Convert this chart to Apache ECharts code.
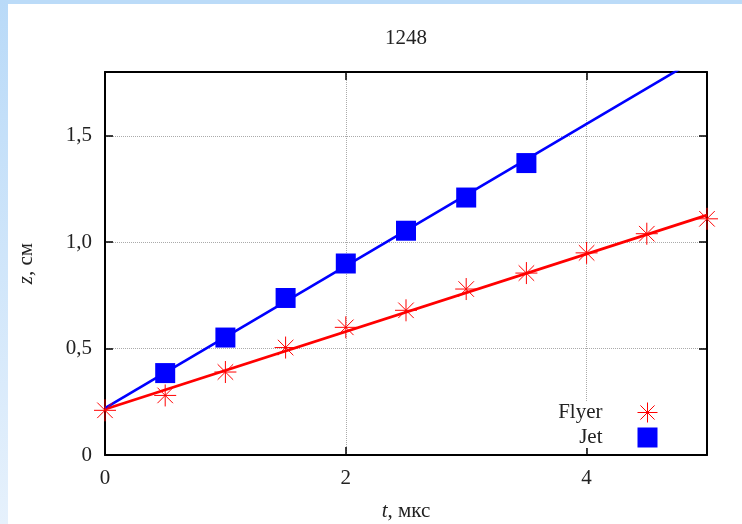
<!DOCTYPE html>
<html>
<head>
<meta charset="utf-8">
<script src="https://cdn.jsdelivr.net/npm/echarts@6/dist/echarts.min.js"></script>
<style>
  html, body { margin: 0; padding: 0; background: #fff; }
  #bandTop { position: absolute; left: 0; top: 0; width: 742px; height: 4px; background: #bbdbf8; }
  #bandLeft { position: absolute; left: 0; top: 0; width: 8px; height: 524px;
    background: linear-gradient(#b9daf8, #e6f1fc); }
  #chart { position: absolute; left: 0; top: 0; width: 742px; height: 524px; }
</style>
</head>
<body>
<div id="bandTop"></div>
<div id="bandLeft"></div>
<div id="chart"></div>
<script>
  // измерения: Flyer
  const tFlyer = [0, 0.5, 1, 1.5, 2, 2.5, 3, 3.5, 4, 4.5, 5]
  const zFlyer = [0.21, 0.28, 0.39, 0.505, 0.60, 0.68, 0.78, 0.855, 0.95, 1.04, 1.11]
  // измерения: Jet
  const tJet = [0.5, 1, 1.5, 2, 2.5, 3, 3.5]
  const zJet = [0.385, 0.552, 0.738, 0.90, 1.054, 1.21, 1.372]
  // линейные аппроксимации
  const fitT = [0, 5]
  const flyerFitZ = [0.215, 1.127]
  const jetFitZ = [0.22, 1.89]
  // подписи делений
  const yTickLabels = ['0', '0,5', '1,0', '1,5']

  const starPath = 'path://M0,10L20,10M10,0L10,20M2.93,2.93L17.07,17.07M17.07,2.93L2.93,17.07'
  const font = 'Liberation Serif'
  const textColor = '#222'

  function pairs (xs, ys) {
    let out = []
    for (let i in xs) out.push([xs[i], ys[i]])
    return out
  }

  const chart = echarts.init(document.getElementById('chart'))

  const axisCommon = {
    axisLine: { show: true, onZero: false, lineStyle: { color: '#000', width: 2 } },
    axisTick: { show: true, inside: true, length: 8, lineStyle: { color: '#000', width: 1.5 } },
    minorTick: { show: false }
  }

  chart.setOption({
    animation: false,
    title: {
      text: '1248',
      left: 385,
      top: 28,
      padding: 0,
      textStyle: { fontFamily: font, fontSize: 21, fontWeight: 'normal', color: textColor }
    },
    grid: { left: 105, right: 35, top: 72, bottom: 69, show: false, containLabel: false, outerBoundsMode: 'none' },
    legend: {
      orient: 'vertical',
      align: 'right',
      right: 84,
      top: 402,
      padding: 0,
      itemGap: 4,
      itemWidth: 20,
      itemHeight: 20,
      backgroundColor: '#fff',
      selectedMode: false,
      textStyle: { fontFamily: font, fontSize: 21, color: textColor, padding: [0, 30, 0, 0] },
      data: [
        { name: 'Flyer', icon: starPath, itemStyle: { color: '#f00', borderColor: '#f00', borderWidth: 1 } },
        { name: 'Jet', icon: 'rect', itemStyle: { color: '#0000ff', borderWidth: 0 } }
      ]
    },
    xAxis: [
      Object.assign({}, axisCommon, {
        type: 'value',
        min: 0,
        max: 5,
        interval: 2,
        name: '{it|t}, мкс',
        nameLocation: 'middle',
        nameGap: 46,
        nameTextStyle: {
          fontFamily: font, fontSize: 21, color: textColor,
          rich: { it: { fontFamily: font, fontSize: 21, fontStyle: 'italic', color: textColor } }
        },
        axisLabel: {
          margin: 13,
          showMaxLabel: false,
          fontFamily: font, fontSize: 21, color: textColor
        },
        splitLine: { show: true, lineStyle: { color: '#aaa', type: 'dotted', width: 1 } }
      }),
      Object.assign({}, axisCommon, {
        type: 'value',
        position: 'top',
        min: 0,
        max: 5,
        interval: 2,
        axisLabel: { show: false },
        splitLine: { show: false }
      })
    ],
    yAxis: [
      Object.assign({}, axisCommon, {
        type: 'value',
        min: 0,
        max: 1.8,
        interval: 0.5,
        name: '{it|z}, см',
        nameLocation: 'middle',
        nameGap: 68,
        nameTextStyle: {
          fontFamily: font, fontSize: 21, color: textColor,
          rich: { it: { fontFamily: font, fontSize: 21, fontStyle: 'italic', color: textColor } }
        },
        axisLabel: {
          margin: 13,
          showMaxLabel: false,
          fontFamily: font, fontSize: 21, color: textColor,
          formatter: function (v) { return yTickLabels[Math.round(v / 0.5)] }
        },
        splitLine: { show: true, lineStyle: { color: '#aaa', type: 'dotted', width: 1 } }
      }),
      Object.assign({}, axisCommon, {
        type: 'value',
        position: 'right',
        min: 0,
        max: 1.8,
        interval: 0.5,
        axisLabel: { show: false },
        splitLine: { show: false }
      })
    ],
    series: [
      {
        name: 'Flyer fit',
        type: 'line',
        data: pairs(fitT, flyerFitZ),
        showSymbol: false,
        lineStyle: { color: '#f00', width: 2.8 },
        silent: true,
        z: 2
      },
      {
        name: 'Jet fit',
        type: 'line',
        data: pairs(fitT, jetFitZ),
        showSymbol: false,
        lineStyle: { color: '#0000ff', width: 2.6 },
        silent: true,
        z: 2
      },
      {
        name: 'Flyer',
        type: 'scatter',
        data: pairs(tFlyer, zFlyer),
        symbol: starPath,
        symbolSize: 22,
        itemStyle: { color: '#f00', borderColor: '#f00', borderWidth: 1, opacity: 1 },
        emphasis: { disabled: true },
        silent: true,
        z: 3
      },
      {
        name: 'Jet',
        type: 'scatter',
        data: pairs(tJet, zJet),
        symbol: 'rect',
        symbolSize: 20,
        itemStyle: { color: '#0000ff', opacity: 1 },
        emphasis: { disabled: true },
        silent: true,
        z: 3
      }
    ]
  })
</script>
</body>
</html>
